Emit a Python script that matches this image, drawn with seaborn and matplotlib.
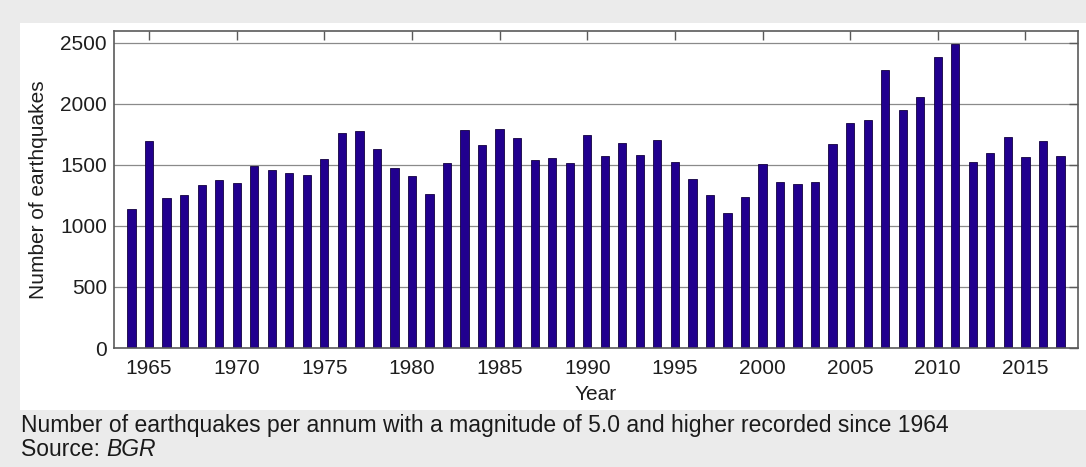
import matplotlib
matplotlib.use("Agg")
import pandas as pd
import seaborn as sns
from matplotlib import pyplot as plt
from matplotlib.patches import Rectangle

# Earthquakes with magnitude >= 5.0 per year
years = list(range(1964, 2018))
counts = [
    1140, 1700, 1227, 1254, 1336, 1374, 1350, 1492, 1462, 1432,
    1418, 1552, 1765, 1779, 1631, 1473, 1407, 1262, 1514, 1790,
    1664, 1792, 1724, 1541, 1560, 1514, 1749, 1574, 1680, 1579,
    1705, 1525, 1388, 1251, 1109, 1240, 1508, 1363, 1344, 1361,
    1675, 1847, 1866, 2276, 1951, 2060, 2388, 2489, 1525, 1598,
    1732, 1566, 1699, 1571,
]
x_ticks = list(range(1965, 2020, 5))
y_ticks = list(range(0, 3000, 500))

caption = "Number of earthquakes per annum with a magnitude of 5.0 and higher recorded since 1964"

sns.set_style("white")
plt.rcParams["font.family"] = ["Liberation Sans", "DejaVu Sans"]

df = pd.DataFrame({"Year": years, "Count": counts})

fig = plt.figure(figsize=(10.86, 4.67), dpi=100, facecolor="#ebebeb")

# white panel behind the plot
fig.patches.append(Rectangle((20 / 1086, (467 - 410) / 467), 1 - 20 / 1086, (410 - 23) / 467,
                             transform=fig.transFigure, facecolor="white", edgecolor="none", zorder=-5))

ax = fig.add_axes([114 / 1086, (467 - 348) / 467, (1078 - 114) / 1086, (348 - 30.7) / 467])
ax.set_facecolor("white")

sns.barplot(data=df, x="Year", y="Count", native_scale=True, width=0.47,
            color="#21008e", saturation=1, edgecolor="#120040", linewidth=0.6, ax=ax)

ax.set_xlim(1963, 2018)
ax.set_ylim(0, 2600)
ax.set_xticks(x_ticks)
ax.set_xticklabels([str(t) for t in x_ticks])
ax.set_yticks(y_ticks)

ax.set_axisbelow(True)
ax.yaxis.grid(True, color="#8a8a8a", linewidth=0.9)
ax.xaxis.grid(False)

for spine in ax.spines.values():
    spine.set_visible(True)
    spine.set_color("#5a5a5a")
    spine.set_linewidth(1.2)

ax.tick_params(axis="both", direction="in", length=6.5, width=1.0, color="#5a5a5a",
               labelsize=15, labelcolor="#1e1e1e", top=True, right=True)
ax.tick_params(axis="x", pad=8)
ax.tick_params(axis="y", pad=5)

ax.set_xlabel("Year", fontsize=15, color="#1e1e1e", labelpad=5)
ax.set_ylabel("Number of earthquakes", fontsize=15, color="#1e1e1e", labelpad=9)

# caption below the chart
fig.text(21 / 1086, (467 - 432) / 467, caption, fontsize=16.5, color="#1a1a1a", va="baseline")
src = fig.text(21 / 1086, (467 - 456) / 467, "Source: ", fontsize=16.5, color="#1a1a1a", va="baseline")
fig.canvas.draw()
bb = src.get_window_extent(renderer=fig.canvas.get_renderer())
fig.text(bb.x1 / fig.bbox.width, (467 - 456) / 467, "BGR", fontsize=16.5, style="italic",
         color="#1a1a1a", va="baseline")

fig.savefig("out.png", dpi=100, facecolor=fig.get_facecolor())
